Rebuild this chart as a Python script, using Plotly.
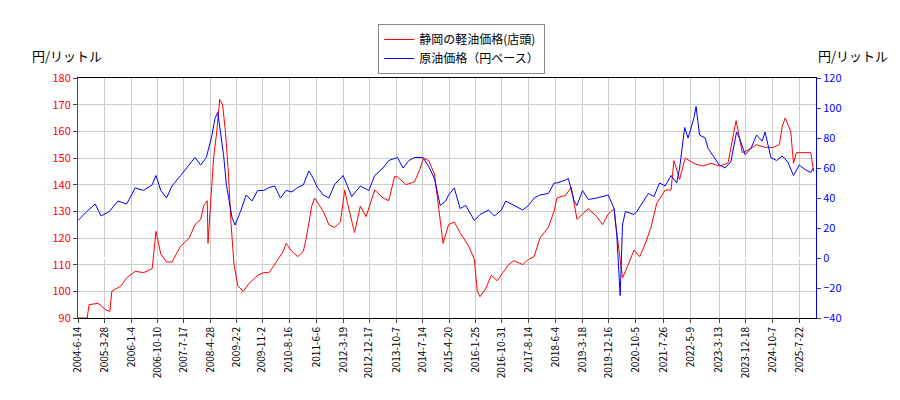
import plotly.graph_objects as go

red_dates = ["2004-06-14","2004-09-20","2004-10-10","2005-01-15","2005-04-10","2005-05-20","2005-06-10","2005-09-15","2005-11-15","2006-02-15","2006-05-15","2006-08-15","2006-09-25","2006-11-15","2007-01-15","2007-03-15","2007-06-15","2007-09-15","2007-11-15","2008-01-15","2008-02-15","2008-03-25","2008-04-02","2008-04-30","2008-06-01","2008-07-05","2008-08-05","2008-09-05","2008-10-05","2008-11-05","2008-12-05","2009-01-05","2009-02-15","2009-04-15","2009-06-15","2009-09-15","2009-11-15","2010-01-15","2010-03-15","2010-06-15","2010-07-15","2010-09-15","2010-11-15","2011-01-15","2011-02-15","2011-04-15","2011-05-15","2011-08-15","2011-10-15","2011-12-15","2012-02-15","2012-04-01","2012-05-01","2012-07-15","2012-09-15","2012-11-15","2013-02-15","2013-05-15","2013-07-15","2013-09-15","2013-10-15","2014-01-15","2014-04-15","2014-06-15","2014-07-20","2014-09-15","2014-11-15","2014-12-15","2015-02-15","2015-04-15","2015-06-15","2015-08-15","2015-11-15","2016-01-15","2016-02-15","2016-03-15","2016-05-15","2016-07-15","2016-09-15","2016-11-15","2017-01-15","2017-03-15","2017-06-15","2017-08-15","2017-10-15","2017-12-15","2018-03-15","2018-05-15","2018-06-15","2018-09-15","2018-11-15","2019-01-15","2019-05-15","2019-08-15","2019-10-15","2019-12-15","2020-02-15","2020-03-15","2020-05-15","2020-07-15","2020-09-15","2020-11-15","2021-01-15","2021-03-15","2021-05-15","2021-08-15","2021-10-15","2021-11-15","2022-01-15","2022-03-15","2022-06-15","2022-09-15","2022-12-15","2023-03-15","2023-06-15","2023-09-10","2023-11-15","2024-01-15","2024-04-15","2024-07-15","2024-10-15","2024-12-15","2025-01-15","2025-02-15","2025-04-15","2025-05-15","2025-06-15","2025-08-15","2025-10-15","2025-11-15","2025-12-15"]
red_vals = [90,90,95,95.5,93,92.5,100,102,105,107.5,107,108.5,122.5,114,111,111,117,120,125,127,132,134,118,133,150,160,172,170,160,145,125,110,102,100,103,106,107,107,110,115,118,115,113,115,120,132,135,130,125,124,126,138,133,122,132,128,138,135,134,143,143,140,141,146,150,149,144,135,118,125,126,122,117,112,100,98,101,106,104,107,110,111.5,110,112,113,120,124,130,135,136,139,127,131,128,125,129,131,122,105,110,115.5,113,118,124,133,138,138,149,142,150,148,147,148,147,148,164,152,153,155,154,154,155,162,165,160,148,152,152,152,152,145]

blue_dates = ["2004-06-14","2004-09-15","2004-12-15","2005-02-15","2005-05-15","2005-08-15","2005-11-15","2006-02-15","2006-05-15","2006-08-15","2006-09-25","2006-11-15","2007-01-15","2007-03-15","2007-06-15","2007-09-15","2007-11-15","2008-01-15","2008-03-15","2008-05-15","2008-06-15","2008-07-15","2008-08-15","2008-09-15","2008-10-15","2008-12-15","2009-01-15","2009-03-15","2009-05-15","2009-07-15","2009-09-15","2009-11-15","2010-01-15","2010-03-15","2010-05-15","2010-07-15","2010-09-15","2010-11-15","2011-01-15","2011-03-15","2011-04-15","2011-06-15","2011-08-15","2011-10-15","2011-12-15","2012-03-15","2012-06-15","2012-09-15","2012-12-15","2013-02-15","2013-05-15","2013-07-15","2013-10-15","2013-12-15","2014-02-15","2014-04-15","2014-07-15","2014-09-15","2014-11-15","2015-01-15","2015-03-15","2015-04-15","2015-06-15","2015-08-15","2015-10-15","2016-01-15","2016-03-15","2016-06-15","2016-08-15","2016-10-31","2016-12-15","2017-03-15","2017-06-15","2017-08-15","2017-10-15","2017-12-15","2018-03-15","2018-05-15","2018-06-15","2018-09-15","2018-10-15","2018-12-15","2019-01-15","2019-03-15","2019-05-15","2019-08-15","2019-10-15","2019-12-15","2020-02-15","2020-03-15","2020-04-20","2020-05-15","2020-06-15","2020-09-15","2020-10-15","2020-12-15","2021-02-15","2021-04-15","2021-06-15","2021-08-15","2021-10-15","2021-12-15","2022-01-15","2022-03-10","2022-04-15","2022-06-15","2022-07-10","2022-08-15","2022-10-15","2022-11-15","2023-01-15","2023-03-15","2023-05-15","2023-07-15","2023-09-15","2023-10-15","2023-12-15","2024-02-15","2024-04-15","2024-06-15","2024-07-15","2024-09-15","2024-11-15","2025-01-15","2025-03-15","2025-05-15","2025-07-15","2025-09-15","2025-11-15","2025-12-15"]
blue_vals = [25,31,36,28,31,38,36,46.7,45,48.7,55,45,40,48,55,62,67,62,67,82,93,97,82,69,49,27,22,31,42,38,45,45,47,48,40,45,44,47,48.7,58,55,47,42,40,49,55,41,48,45,55,60,65,67,60,65,67,67,61,53,35,38,42,46.7,33,35,25,29,32,28,32,38,35,32,35,40,42,43,50,50,52,53,38,35,45,39,40,41,42,33,15,-25,22,31,29,31,37,43,41,50,48,55,50,60,87,80,93,101,82,80,73,67,62,60,64,84,80,69,73,82,78,84,67,65,68,64,55,62,59,57,60]

tick_dates = ["2004-06-14","2005-03-28","2006-01-04","2006-10-10","2007-07-17","2008-04-28","2009-02-02","2009-11-02","2010-08-16","2011-06-06","2012-03-19","2012-12-17","2013-10-07","2014-07-14","2015-04-20","2016-01-25","2016-10-31","2017-08-14","2018-06-04","2019-03-18","2019-12-16","2020-10-05","2021-07-26","2022-05-09","2023-03-13","2023-12-18","2024-10-07","2025-07-22"]
tick_text = ["2004-6-14","2005-3-28","2006-1-4","2006-10-10","2007-7-17","2008-4-28","2009-2-2","2009-11-2","2010-8-16","2011-6-6","2012-3-19","2012-12-17","2013-10-7","2014-7-14","2015-4-20","2016-1-25","2016-10-31","2017-8-14","2018-6-4","2019-3-18","2019-12-16","2020-10-5","2021-7-26","2022-5-9","2023-3-13","2023-12-18","2024-10-7","2025-7-22"]

font = "Noto Sans CJK JP"
fig = go.Figure()
fig.add_trace(go.Scatter(x=red_dates, y=red_vals, mode="lines", line=dict(color="red", width=1), name="静岡の軽油価格(店頭)"))
fig.add_trace(go.Scatter(x=blue_dates, y=blue_vals, mode="lines", line=dict(color="blue", width=1), name="原油価格（円ベース）", yaxis="y2"))

fig.update_layout(
    width=900, height=400, plot_bgcolor="white", paper_bgcolor="white",
    margin=dict(l=70, r=92, t=70, b=90, autoexpand=False),
    font=dict(family=font, size=11, color="black"),
    showlegend=True,
    legend=dict(x=0.52, y=1.225, xanchor="center", yanchor="top", bordercolor="#888", borderwidth=1, font=dict(size=12)),
    xaxis=dict(range=["2004-06-14","2026-01-10"], tickvals=tick_dates, ticktext=tick_text, tickangle=-90, automargin=False,
               showgrid=True, gridcolor="#ccc", showline=True, linecolor="black", ticks="outside", ticklen=4, mirror=True, tickfont=dict(size=10)),
    yaxis=dict(range=[90,180], dtick=10, automargin=False, showgrid=True, gridcolor="#ccc", tickfont=dict(color="red"), showline=True, linecolor="red", ticks="outside", ticklen=4),
    yaxis2=dict(range=[-40,120], dtick=20, automargin=False, overlaying="y", side="right", showgrid=False, tickfont=dict(color="blue"), showline=True, linecolor="blue", ticks="outside", ticklen=4),
    annotations=[
        dict(text="円/リットル", xref="paper", yref="paper", x=-0.065, y=1.095, xanchor="left", yanchor="middle", showarrow=False, font=dict(size=13)),
        dict(text="円/リットル", xref="paper", yref="paper", x=1.10, y=1.095, xanchor="right", yanchor="middle", showarrow=False, font=dict(size=13)),
    ],
)
fig.write_html("out.html")
